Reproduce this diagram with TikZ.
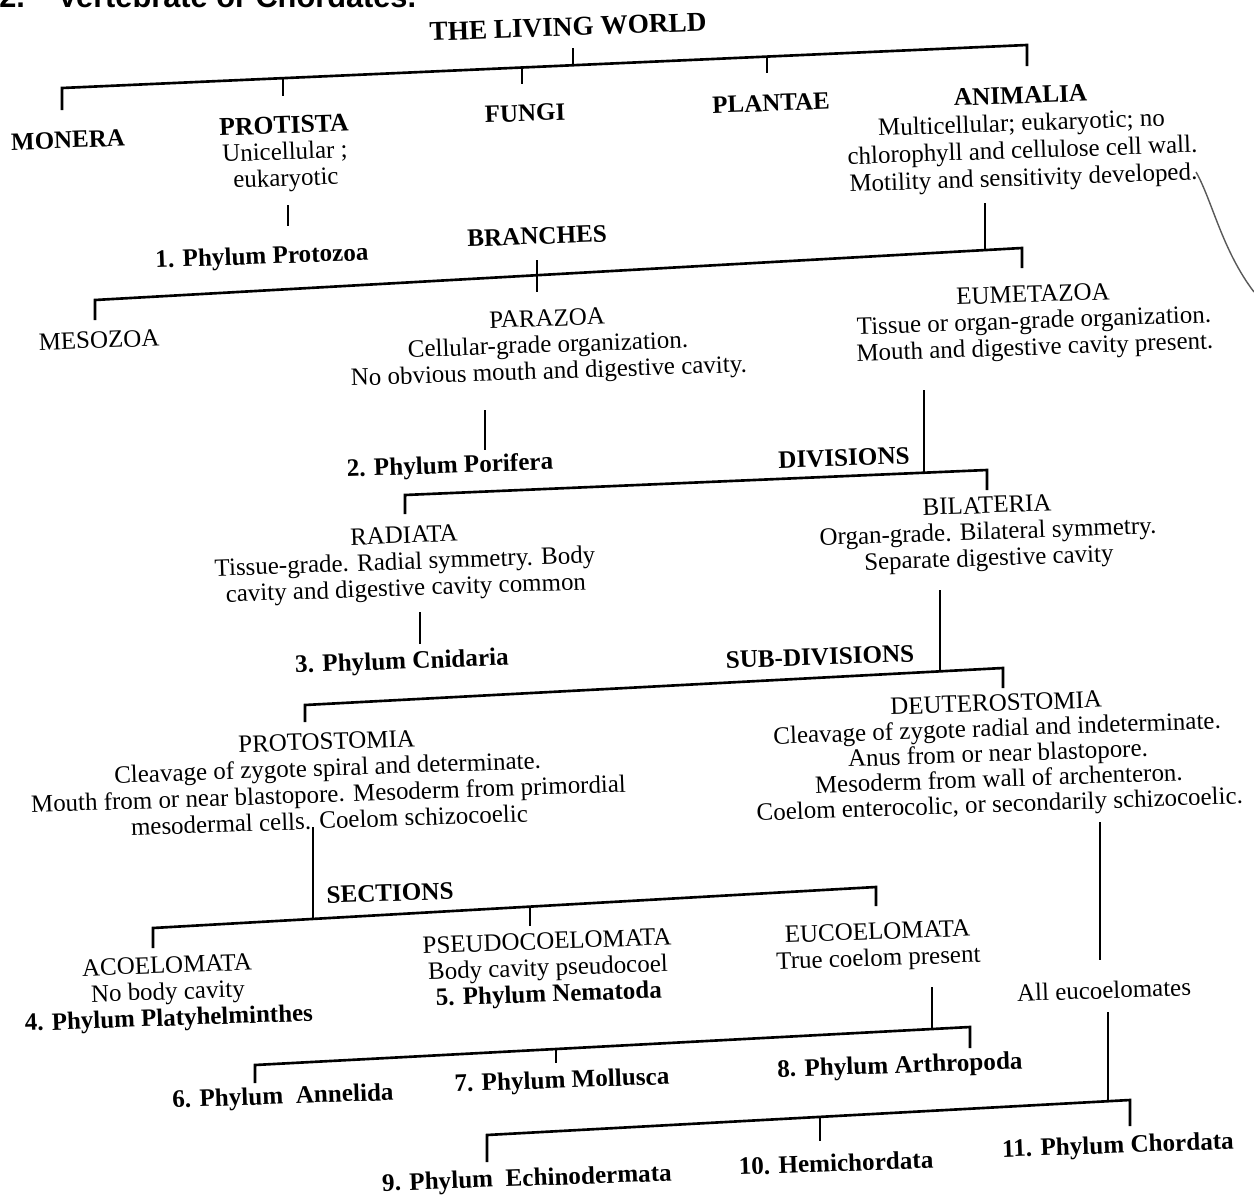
\documentclass[tikz,border=0pt]{standalone}
\usepackage{fontspec}
\setmainfont{Liberation Serif}
\newfontfamily\hdrfont{Liberation Sans}
\begin{document}
\begin{tikzpicture}[x=0.02cm,y=-0.02cm,
  txt/.style={rotate=2, align=center, inner sep=0pt, font=\fontsize{14.2}{15}\selectfont},
  lbl/.style={rotate=2, inner sep=0pt, font=\fontsize{14.3}{15}\selectfont\bfseries},
  kng/.style={rotate=2, inner sep=0pt, font=\fontsize{14.2}{16}\selectfont\bfseries},
  ln/.style={line width=1.5pt, line join=miter}]
\clip (0,0) rectangle (1254,1200);
\fill[white] (0,0) rectangle (1254,1200);
% cut-off header
\node[anchor=base west, inner sep=0pt, font=\hdrfont\fontsize{17.5}{19}\selectfont\bfseries] (hnum) at (-1,8) {2.};
\node[anchor=base west, inner sep=0pt, font=\hdrfont\fontsize{17.5}{19}\selectfont\bfseries] (htitle) at (57,8) {Vertebrate or Chordates.};
% nodes
\node[kng, font=\fontsize{15.5}{18}\selectfont\bfseries] (world) at (568,27) {THE LIVING WORLD};
\node[kng] (monera) at (68,140) {MONERA};
\node[txt] (protista) at (285,154) {\textbf{\fontsize{14.6}{16}\selectfont PROTISTA}\\Unicellular ;\\eukaryotic};
\node[kng] (fungi) at (525,113) {FUNGI};
\node[kng] (plantae) at (771,103) {PLANTAE};
\node[txt, font=\fontsize{14.2}{15.6}\selectfont] (animalia) at (1022,139) {\textbf{\fontsize{14.4}{16}\selectfont ANIMALIA}\\Multicellular; eukaryotic; no\\chlorophyll and cellulose cell wall.\\Motility and sensitivity developed.};
\node[lbl] (protozoa) at (262,258) {1. Phylum Protozoa};
\node[lbl] (branches) at (537,236) {BRANCHES};
\node[txt] (mesozoa) at (99,340) {MESOZOA};
\node[txt] (parazoa) at (548,347) {PARAZOA\\Cellular-grade organization.\\No obvious mouth and digestive cavity.};
\node[txt] (eumetazoa) at (1034,323) {EUMETAZOA\\Tissue or organ-grade organization.\\Mouth and digestive cavity present.};
\node[lbl] (porifera) at (450,467) {2. Phylum Porifera};
\node[lbl] (divisions) at (844,458) {DIVISIONS};
\node[txt] (radiata) at (405,564) {RADIATA\\Tissue-grade. Radial symmetry. Body\\cavity and digestive cavity common};
\node[lbl] (cnidaria) at (402,663) {3. Phylum Cnidaria};
\node[txt] (bilateria) at (988,534) {BILATERIA\\Organ-grade. Bilateral symmetry.\\Separate digestive cavity};
\node[lbl] (subdiv) at (820,657) {SUB-DIVISIONS};
\node[txt] (proto) at (328,781) {PROTOSTOMIA\\Cleavage of zygote spiral and determinate.\\Mouth from or near blastopore. Mesoderm from primordial\\mesodermal cells. Coelom schizocoelic};
\node[txt, font=\fontsize{14.2}{14.4}\selectfont] (deutero) at (998,756) {DEUTEROSTOMIA\\Cleavage of zygote radial and indeterminate.\\Anus from or near blastopore.\\Mesoderm from wall of archenteron.\\Coelom enterocolic, or secondarily schizocoelic.};
\node[lbl] (sections) at (390,893) {SECTIONS};
\node[txt] (acoel) at (168,994) {ACOELOMATA\\No body cavity\\\textbf{4. Phylum Platyhelminthes}};
\node[txt] (pseudo) at (548,970) {PSEUDOCOELOMATA\\Body cavity pseudocoel\\\textbf{5. Phylum Nematoda}};
\node[txt] (eucoel) at (878,947) {EUCOELOMATA\\True coelom present};
\node[txt] (alleu) at (1104,990) {All eucoelomates};
\node[lbl] (annelida) at (283,1098) {6. Phylum\ \ Annelida};
\node[lbl] (mollusca) at (562,1082) {7. Phylum Mollusca};
\node[lbl] (arthro) at (900,1067) {8. Phylum Arthropoda};
\node[lbl] (echino) at (527,1180) {9. Phylum\ \ Echinodermata};
\node[lbl] (hemi) at (836,1163) {10. Hemichordata};
\node[lbl] (chordata) at (1118,1147) {11. Phylum Chordata};
% bracket corner coordinates
\coordinate (k0) at (573,48);  \coordinate (k0j) at (573,66);
\coordinate (kL) at (62,88);   \coordinate (kR) at (1027,45);
\coordinate (kLe) at (62,110); \coordinate (kRe) at (1027,66);
\coordinate (kP) at (283,78);  \coordinate (kPe) at (283,96);
\coordinate (kF) at (522,68);  \coordinate (kFe) at (522,84);
\coordinate (kT) at (767,57);  \coordinate (kTe) at (767,73);
\coordinate (pz0) at (288,205); \coordinate (pz1) at (288,226);
\coordinate (a0) at (985,203); \coordinate (a1) at (985,251);
\coordinate (bL) at (95,300);  \coordinate (bR) at (1022,248);
\coordinate (bLe) at (95,320); \coordinate (bRe) at (1022,268);
\coordinate (bx0) at (537,260); \coordinate (bx1) at (537,292);
\coordinate (p0) at (485,410); \coordinate (p1) at (485,450);
\coordinate (e0) at (924,390); \coordinate (e1) at (924,473);
\coordinate (dL) at (405,495); \coordinate (dR) at (987,470);
\coordinate (dLe) at (405,514); \coordinate (dRe) at (987,490);
\coordinate (r0) at (420,612); \coordinate (r1) at (420,644);
\coordinate (bi0) at (940,590); \coordinate (bi1) at (940,671);
\coordinate (sL) at (305,705); \coordinate (sR) at (1003,668);
\coordinate (sLe) at (305,722); \coordinate (sRe) at (1003,688);
\coordinate (pr0) at (313,827); \coordinate (pr1) at (313,919);
\coordinate (cL) at (153,928); \coordinate (cR) at (876,887);
\coordinate (cLe) at (153,948); \coordinate (cRe) at (876,906);
\coordinate (cM) at (530,907); \coordinate (cMe) at (530,926);
\coordinate (eu0) at (932,987); \coordinate (eu1) at (932,1029);
\coordinate (uL) at (255,1065); \coordinate (uR) at (970,1027);
\coordinate (uLe) at (255,1083); \coordinate (uRe) at (970,1048);
\coordinate (uM) at (556,1049); \coordinate (uMe) at (556,1063);
\coordinate (de0) at (1100,822); \coordinate (de1) at (1100,960);
\coordinate (al0) at (1108,1012); \coordinate (al1) at (1108,1101);
\coordinate (zL) at (487,1135); \coordinate (zR) at (1130,1100);
\coordinate (zLe) at (487,1162); \coordinate (zRe) at (1130,1126);
\coordinate (zM) at (820,1117); \coordinate (zMe) at (820,1141);
% connectors
\draw[ln] (k0) -- (k0j);
\draw[ln] (kLe) -- (kL) -- (kR) -- (kRe);
\draw[ln] (kP) -- (kPe);
\draw[ln] (kF) -- (kFe);
\draw[ln] (kT) -- (kTe);
\draw[ln] (pz0) -- (pz1);
\draw[ln] (a0) -- (a1);
\draw[ln] (bLe) -- (bL) -- (bR) -- (bRe);
\draw[ln] (bx0) -- (bx1);
\draw[ln] (p0) -- (p1);
\draw[ln] (e0) -- (e1);
\draw[ln] (dLe) -- (dL) -- (dR) -- (dRe);
\draw[ln] (r0) -- (r1);
\draw[ln] (bi0) -- (bi1);
\draw[ln] (sLe) -- (sL) -- (sR) -- (sRe);
\draw[ln] (pr0) -- (pr1);
\draw[ln] (cLe) -- (cL) -- (cR) -- (cRe);
\draw[ln] (cM) -- (cMe);
\draw[ln] (eu0) -- (eu1);
\draw[ln] (uLe) -- (uL) -- (uR) -- (uRe);
\draw[ln] (uM) -- (uMe);
\draw[ln] (de0) -- (de1);
\draw[ln] (al0) -- (al1);
\draw[ln] (zLe) -- (zL) -- (zR) -- (zRe);
\draw[ln] (zM) -- (zMe);
% stray scan mark
\coordinate (m0) at (1196,172); \coordinate (m1) at (1254,292);
\draw[line width=0.8pt, gray!70!black] (m0) .. controls (1212,200) and (1222,250) .. (m1);
\end{tikzpicture}
\end{document}
